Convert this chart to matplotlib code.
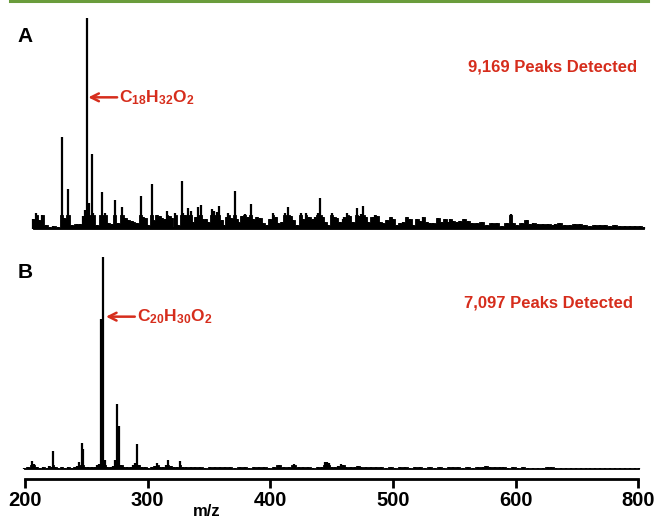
import matplotlib
matplotlib.use("Agg")
import matplotlib.pyplot as plt
import numpy as np
from matplotlib.lines import Line2D

plt.rcParams['font.family'] = ['Liberation Sans', 'DejaVu Sans']
plt.rcParams['mathtext.fontset'] = 'custom'
plt.rcParams['mathtext.rm'] = 'Liberation Sans:bold'
plt.rcParams['mathtext.bf'] = 'Liberation Sans:bold'
plt.rcParams['mathtext.it'] = 'Liberation Sans:bold'

# ---------------- data ----------------
mz_a = [206.5, 209.0, 211.4, 214.1, 217.1, 220.4, 223.1, 227.2, 229.9, 231.8, 234.8, 238.0,
        242.1, 244.8, 247.6, 248.9, 250.5, 252.2, 254.3, 255.7, 258.4, 262.8, 265.2, 267.9,
        270.7, 273.4, 275.5, 279.3, 281.5, 284.2, 287.0, 288.3, 291.0, 294.3, 296.5, 297.8,
        300.5, 303.3, 304.6, 307.3, 310.1, 311.4, 314.1, 316.0, 317.7, 319.6, 320.9, 322.6,
        325.0, 327.7, 329.1, 330.4, 332.6, 335.1, 337.2, 339.1, 341.3, 343.5, 345.4, 347.6,
        349.5, 352.2, 354.4, 356.3, 358.4, 360.3, 362.2, 364.4, 365.8, 367.9, 370.9, 372.6,
        373.9, 376.6, 379.4, 381.5, 384.2, 386.1, 388.9, 391.6, 394.3, 397.0, 399.7, 402.4,
        404.4, 406.5, 409.2, 412.0, 414.7, 416.9, 418.8, 421.5, 424.7, 426.9, 429.1, 431.5,
        435.1, 436.4, 438.6, 440.8, 442.7, 444.6, 447.3, 450.0, 452.2, 454.1, 456.8, 459.5,
        460.1, 462.8, 465.0, 467.1, 470.4, 472.6, 473.9, 475.8, 478.0, 479.9, 483.4, 485.3,
        487.2, 489.4, 492.1, 494.8, 498.1, 500.3, 503.0, 505.7, 508.4, 511.1, 513.9, 516.6,
        519.8, 522.0, 524.7, 527.5, 530.2, 532.9, 537.0, 539.7, 542.4, 545.1, 546.5, 549.2,
        551.9, 554.6, 558.2, 560.9, 564.1, 568.2, 572.3, 576.4, 580.4, 584.5, 588.6, 592.7,
        596.2, 598.1, 600.8, 604.9, 609.0, 611.7, 614.4, 618.5, 622.6, 626.6, 630.7, 632.1,
        636.1, 640.2, 644.3, 648.4, 652.4, 656.5, 660.6, 664.7, 668.7, 672.8, 676.9, 681.0,
        685.0, 689.1, 693.2, 697.3, 701.3, 704.9]
int_a = [4.6, 7.7, 4.3, 6.5, 1.9, 1.1, 1.4, 1.1, 43.4, 5.1, 19.0, 1.9,
         2.2, 2.4, 6.2, 9.0, 100.0, 12.2, 35.5, 7.4, 1.9, 17.4, 7.4, 2.7,
         2.2, 13.7, 2.7, 10.3, 5.1, 4.3, 3.9, 3.5, 3.0, 15.6, 5.8, 5.1,
         1.9, 21.3, 4.3, 6.6, 6.2, 5.1, 4.6, 8.7, 6.2, 5.1, 1.1, 7.4,
         1.9, 22.7, 7.4, 6.6, 9.8, 8.7, 3.5, 5.5, 10.6, 11.2, 4.6, 4.6,
         3.5, 9.5, 8.5, 8.1, 10.9, 4.3, 1.9, 5.5, 7.4, 5.1, 18.0, 4.6,
         3.5, 6.2, 7.1, 5.8, 11.8, 4.6, 5.5, 5.1, 2.7, 1.9, 4.6, 7.7,
         5.5, 2.7, 3.5, 7.4, 10.6, 6.2, 4.3, 1.9, 7.4, 4.6, 7.7, 5.5,
         4.6, 5.5, 7.7, 14.5, 5.5, 3.5, 1.9, 7.4, 5.5, 5.1, 3.5, 4.6,
         5.5, 7.4, 6.2, 3.5, 9.8, 6.2, 7.1, 10.9, 5.8, 3.5, 5.5, 6.6,
         6.2, 3.5, 3.0, 4.3, 5.5, 4.6, 1.9, 2.7, 3.5, 5.5, 4.6, 1.9,
         4.6, 3.9, 5.5, 3.5, 2.7, 3.0, 5.1, 3.5, 4.6, 3.5, 4.6, 3.9,
         3.5, 3.9, 4.6, 3.9, 2.7, 3.0, 3.5, 1.9, 3.0, 2.7, 1.4, 2.7,
         7.1, 2.7, 1.9, 2.7, 4.3, 2.4, 2.7, 2.2, 2.4, 2.2, 1.9, 2.2,
         2.7, 2.1, 1.9, 2.2, 2.4, 1.9, 1.6, 2.1, 1.7, 1.9, 1.6, 1.7,
         1.4, 1.6, 1.4, 1.3, 1.3, 1.1]

mz_b = [199.2, 202.7, 205.4, 207.6, 209.5, 212.2, 214.9, 217.7, 219.8, 221.7, 223.1, 224.7,
        227.2, 229.9, 232.6, 235.3, 238.1, 240.8, 242.6, 244.0, 246.2, 247.5, 249.2, 251.6,
        254.4, 257.1, 258.4, 260.1, 262.0, 263.3, 265.0, 267.1, 269.9, 272.0, 273.6, 275.3,
        276.9, 278.5, 280.7, 283.4, 286.2, 288.3, 289.7, 291.1, 292.7, 295.1, 297.8, 300.5,
        303.3, 306.0, 307.9, 310.1, 312.7, 314.9, 316.8, 318.8, 321.5, 324.2, 326.4, 328.5,
        331, 335, 339, 343, 347, 351, 355, 359, 363, 367, 371, 375, 379, 383, 387, 391, 395,
        399, 403, 407, 411, 415, 419, 423, 427, 431, 435, 439, 442, 444.5, 446, 447.5, 450,
        453, 455.5, 457.5, 459.5, 462, 466, 469, 471.5, 474, 478, 482, 486, 490, 494, 498,
        502, 506, 510, 514, 518, 522, 526, 530, 534, 538, 542, 546, 549, 553, 557, 561, 565,
        569, 573, 576, 579, 583, 587, 590, 594, 598, 602, 606, 610, 614, 618, 622, 626, 629,
        633, 637, 641, 645, 649, 653, 657, 661, 665, 669, 673, 677, 681, 685, 689, 693, 697,
        700.5]
int_b = [0.8, 1.0, 4.1, 2.5, 1.0, 0.8, 0.9, 0.8, 1.6, 0.9, 8.8, 1.0,
         0.8, 0.9, 0.8, 0.9, 0.8, 1.2, 1.5, 3.6, 12.3, 9.4, 1.3, 0.9,
         1.0, 1.2, 1.9, 2.4, 71.1, 100.0, 4.2, 1.0, 1.0, 1.6, 4.2, 30.8,
         20.6, 2.0, 1.0, 0.9, 1.0, 2.0, 3.1, 11.9, 2.0, 1.0, 0.9, 0.8,
         1.2, 1.4, 2.8, 1.2, 1.0, 1.8, 4.4, 1.6, 1.0, 1.1, 3.9, 1.2,
         1.0, 0.9, 1.1, 1.0, 0.8, 1.0, 0.9, 1.1, 0.9, 1.0, 0.8, 1.0, 0.9, 0.8, 1.0, 0.9, 1.0,
         0.8, 1.1, 1.9, 0.9, 1.0, 2.4, 1.0, 0.9, 1.1, 0.8, 1.0, 1.3, 3.6, 3.4, 3.0, 1.2,
         1.0, 1.6, 2.6, 1.8, 1.1, 1.0, 1.2, 1.5, 1.2, 1.0, 1.1, 0.9, 1.0, 0.8, 0.9,
         0.8, 1.0, 0.9, 0.8, 0.9, 1.0, 0.8, 0.9, 0.8, 0.9, 0.8, 1.0, 1.2, 0.9, 0.8, 0.9, 0.8,
         0.9, 1.0, 1.4, 1.0, 0.9, 1.0, 1.0, 0.8, 0.9, 0.8, 0.9, 0.7, 0.8, 0.7, 0.8, 0.9, 1.2,
         0.8, 0.7, 0.7, 0.6, 0.7, 0.6, 0.7, 0.6, 0.6, 0.7, 0.6, 0.6, 0.6, 0.6, 0.6, 0.6, 0.6,
         0.6]

tick_pos = [200, 300, 400, 500, 600, 700]
tick_labels = ["200", "300", "400", "500", "600", "800"]
label_a = "9,169 Peaks Detected"
label_b = "7,097 Peaks Detected"
formula_a = r"C$_{18}$H$_{32}$O$_{2}$"
formula_b = r"C$_{20}$H$_{30}$O$_{2}$"
annot_a = (251.6, 62.4)
annot_b = (266.0, 72.0)

# ---------------- layout ----------------
W, H = 654, 519
RED = '#d62d1c'
fig = plt.figure(figsize=(W / 100, H / 100), dpi=100)

x0_px, x1_px = 20.1, 648.1
axA = fig.add_axes([x0_px / W, 1 - 229 / H, (x1_px - x0_px) / W, (229 - 18) / H])
axB = fig.add_axes([x0_px / W, 1 - 479 / H, (x1_px - x0_px) / W, (479 - 257.3) / H])

for ax in (axA, axB):
    ax.set_xlim(196, 708)
    for s in ('top', 'right', 'left'):
        ax.spines[s].set_visible(False)
    ax.set_yticks([])
    ax.patch.set_alpha(0)

axA.set_ylim(0, 100)
axA.spines['bottom'].set_visible(False)
axA.set_xticks([])
# dense noise body (low part of the trace) drawn as a solid step fill
axA.fill_between(mz_a, np.minimum(int_a, 6.5), step='mid', color='black', lw=0.6,
                 edgecolor='black')
axA.vlines(mz_a, 0, int_a, color='black', lw=1.6)

axB.set_ylim(-4.58, 100)
axB.fill_between(mz_b, np.minimum(int_b, 2.0), step='mid', color='black', lw=0.6,
                 edgecolor='black')
axB.vlines(mz_b, 0, int_b, color='black', lw=1.6)
axB.spines['bottom'].set_bounds(200, 700)
axB.spines['bottom'].set_linewidth(2.0)
axB.set_xticks(tick_pos)
axB.set_xticklabels(tick_labels, fontsize=14.5, fontweight='bold')
axB.tick_params(axis='x', direction='out', length=6.5, width=2.0, pad=2.5)

# annotations
for ax, (xh, yh), txt in ((axA, annot_a, formula_a), (axB, annot_b, formula_b)):
    ax.annotate('', xy=(xh, yh), xytext=(xh + 23.5, yh),
                arrowprops=dict(arrowstyle='->', color=RED, lw=1.8, mutation_scale=14,
                                shrinkA=0, shrinkB=0))
    ax.text(xh + 25.3, yh, txt, color=RED, fontsize=12.5, fontweight='bold',
            va='center', ha='left')

fig.text(637 / W, 1 - 67 / H, label_a, color=RED, fontsize=12, fontweight='bold',
         ha='right', va='center')
fig.text(633 / W, 1 - 303 / H, label_b, color=RED, fontsize=12, fontweight='bold',
         ha='right', va='center')
fig.text(25 / W, 1 - 36 / H, 'A', fontsize=15, fontweight='bold', ha='center', va='center')
fig.text(25 / W, 1 - 272 / H, 'B', fontsize=15, fontweight='bold', ha='center', va='center')
fig.text(207 / W, 1 - 512 / H, 'm/z', fontsize=12, fontweight='bold', ha='center', va='center')

# green rule at top
fig.add_artist(Line2D([10 / W, 648 / W], [1 - 1.2 / H, 1 - 1.2 / H], color='#6a9c3c', lw=2.2))

fig.savefig('out.png', dpi=100)
